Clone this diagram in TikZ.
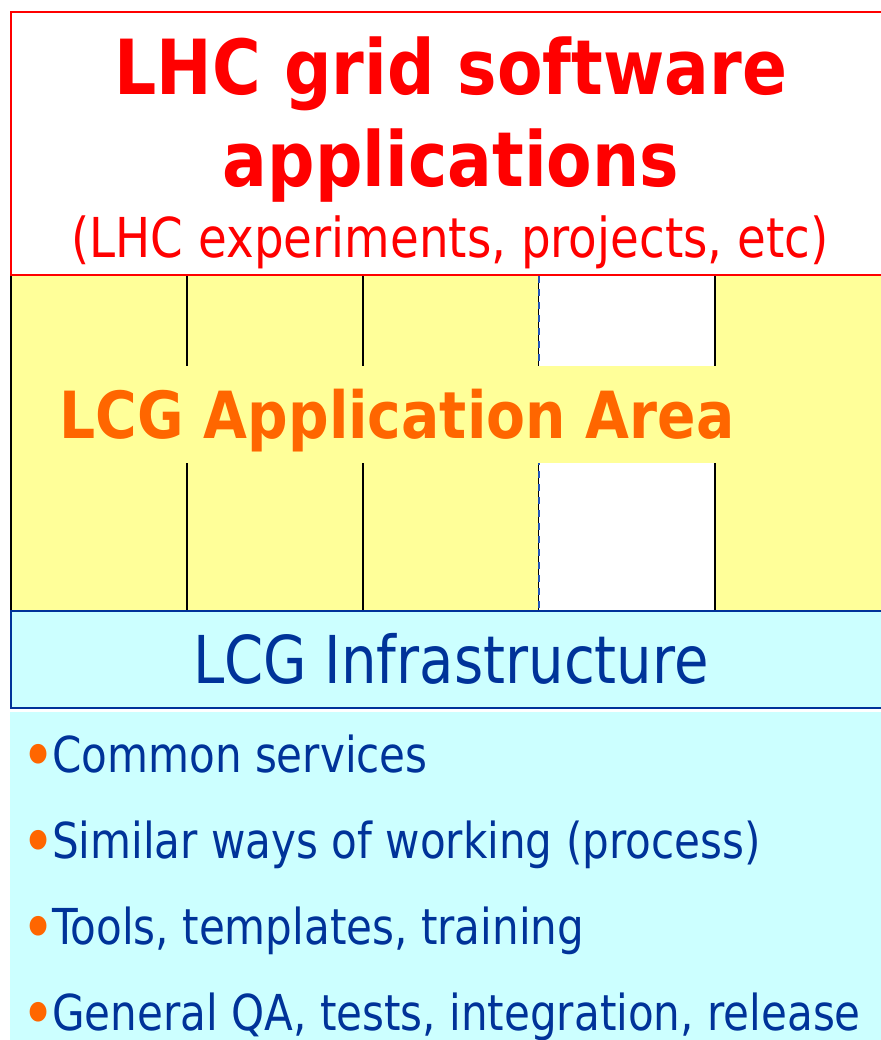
\documentclass[tikz,border=0pt]{standalone}
\usepackage{fontspec}
\setmainfont{DejaVu Sans}
\newfontfamily\narrowsans{DejaVu Sans}[FakeStretch=0.85]
\newfontfamily\narrowbold{DejaVu Sans}[FakeStretch=0.873]
\usetikzlibrary{positioning}

\definecolor{lhcred}{HTML}{FF0000}
\definecolor{areayellow}{HTML}{FFFF99}
\definecolor{areaorange}{HTML}{FF6600}
\definecolor{infracyan}{HTML}{CCFFFF}
\definecolor{infrablue}{HTML}{003399}
\definecolor{dashblue}{HTML}{2255BB}

\newcommand{\orangedot}{\makebox[24pt][l]{\hspace*{-7pt}\raisebox{-7pt}{\textcolor{areaorange}{\fontsize{68}{68}\selectfont •}}}}

\begin{document}
\begin{tikzpicture}[
  x=1pt, y=-1pt,
  layer/.style={rectangle, anchor=north west, inner sep=0pt, minimum width=880pt},
  column/.style={rectangle, draw=black, line width=1.6pt, fill=areayellow, anchor=north west,
    inner sep=0pt, minimum width=176pt, minimum height=336pt},
  emptycol/.style={column, fill=white, draw=dashblue, dash pattern=on 7pt off 6pt},
  item/.style={anchor=base west, inner sep=0pt, text=infrablue, font=\narrowsans\fontsize{49.5}{58}\selectfont}
]
\useasboundingbox (0,0) rectangle (880,1040);

% Application area columns
\foreach \i in {0,...,4} {
  \ifnum\i=3
    \node[emptycol] (col\i) at (10+176*\i,274) {};
  \else
    \node[column] (col\i) at (10+176*\i,274) {};
  \fi
}
\node[rectangle, fill=areayellow, inner sep=0pt, minimum width=673pt, minimum height=97pt,
  text height=47pt, text depth=0pt, text=areaorange,
  font=\narrowbold\bfseries\fontsize{65}{70}\selectfont] (area) at (397,414.5) {LCG Application Area};

% Experiments on top
\node[layer, draw=lhcred, line width=2pt, fill=white, minimum height=263pt] (apps) at (10,11) {};
\node[anchor=base, inner sep=0pt, text=lhcred, font=\narrowbold\bfseries\fontsize{76}{90}\selectfont]
  (title) at (451,95) {LHC grid software};
\node[anchor=base, inner sep=0pt, text=lhcred, font=\narrowbold\bfseries\fontsize{76}{90}\selectfont]
  (title2) at (451,187) {applications};
\node[anchor=base, inner sep=0pt, text=lhcred, font=\narrowsans\fontsize{55}{60}\selectfont]
  (exps) at (450,258) {(LHC experiments, projects, etc)};

% Infrastructure
\node[layer, draw=infrablue, line width=2pt, fill=infracyan, minimum height=97pt,
  text height=47pt, text depth=0pt, text=infrablue, font=\narrowsans\fontsize{66}{70}\selectfont]
  (infra) at (10,610) {LCG Infrastructure};
\node[layer, fill=infracyan, minimum height=330pt] (svc) at (10,712) {};

% Services list
\node[item] (s1) at (28,772) {\orangedot Common services};
\node[item] (s2) at (28,858) {\orangedot Similar ways of working (process)};
\node[item] (s3) at (28,944) {\orangedot Tools, templates, training};
\node[item] (s4) at (28,1030) {\orangedot General QA, tests, integration, release};
\end{tikzpicture}
\end{document}
